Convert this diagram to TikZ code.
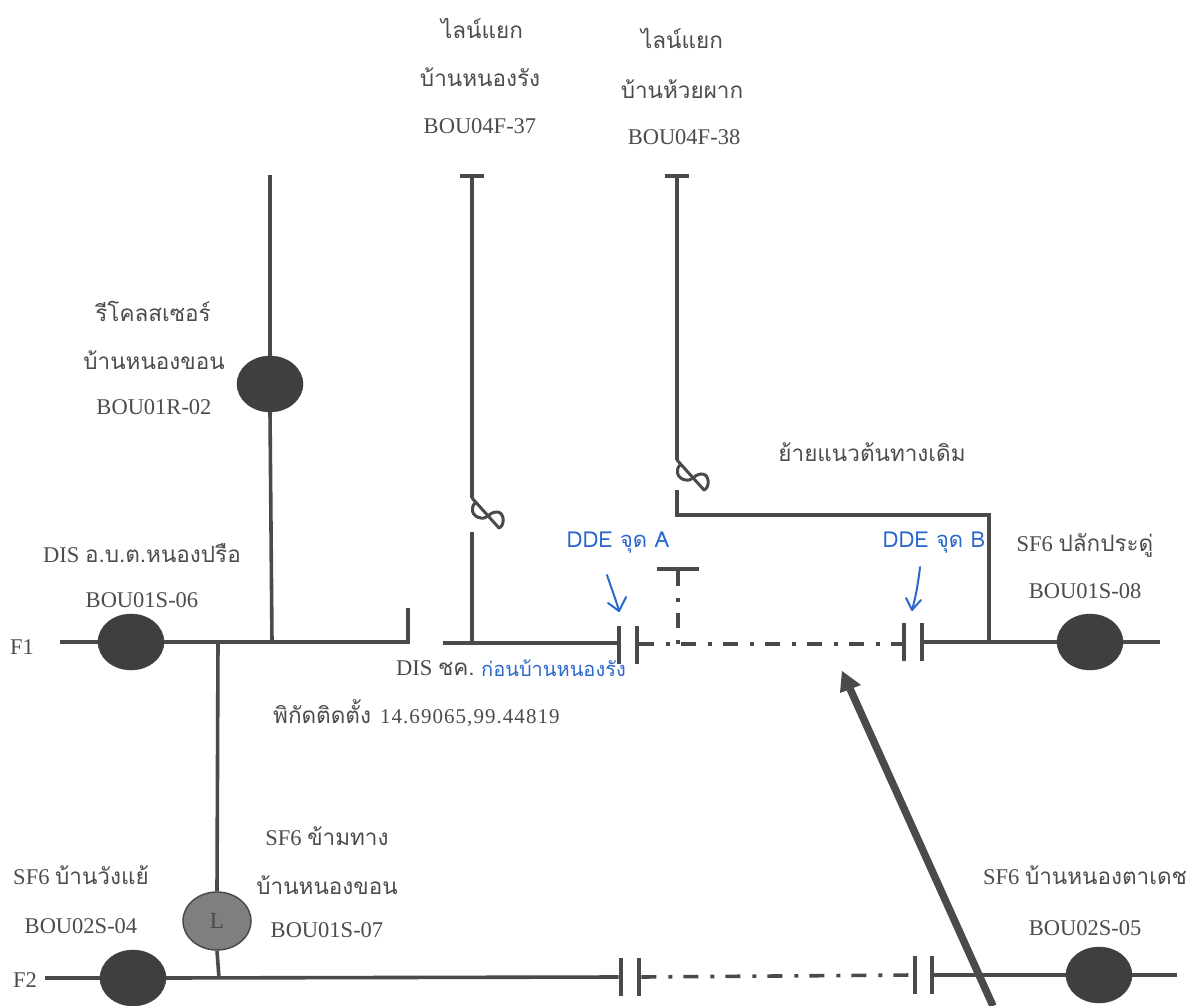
\documentclass[tikz,border=0pt]{standalone}
\usepackage{fontspec}
\usetikzlibrary{shapes.geometric,calc}
\setmainfont{Liberation Serif}
\newfontfamily\thaifont[Script=Thai]{Loma}
\newfontfamily\digitfont[LetterSpace=5]{Liberation Serif}
\newcommand{\tht}[1]{{\thaifont #1}}
\definecolor{ink}{HTML}{4A4A4A}
\definecolor{txt}{HTML}{4C4C4C}
\definecolor{dark}{HTML}{3F3F41}
\definecolor{midg}{HTML}{7F7F7F}
\definecolor{pen}{HTML}{2A68CC}
\tikzset{
  wire/.style={draw=ink,line width=3.6pt},
  dashwire/.style={draw=ink,line width=3.6pt,dash pattern=on 15pt off 12pt on 4pt off 11pt},
  sw/.style={ellipse,draw=dark,fill=dark,inner sep=0pt,minimum width=66pt,minimum height=56pt},
  swl/.style={ellipse,draw=ink,line width=1.5pt,fill=midg,inner sep=0pt,minimum width=68pt,minimum height=58pt,font=\fontsize{23}{23}\selectfont,text=ink},
  bar/.style={rectangle,fill=ink,inner sep=0pt,minimum width=4.5pt,minimum height=38pt},
  endcap/.style={rectangle,fill=ink,inner sep=0pt,minimum width=24pt,minimum height=4pt},
  lab/.style={inner sep=0pt,text=txt,font=\fontsize{22.5}{24}\selectfont},
  hand/.style={inner sep=0pt,text=pen,font=\fontsize{22}{24}\selectfont\thaifont},
  handline/.style={draw=pen,line width=2pt,line cap=round,line join=round},
  loopa/.style={draw=ink,line width=3pt,line cap=round}
}
\newcommand{\looppath}[1]{%
  \begin{scope}[shift={#1}]
  \draw[loopa] (0,0) -- (27,30);
  \draw[loopa] (3,5) .. controls (-2,10) and (0,19) .. (9,20)
     .. controls (16,21) and (16,15) .. (24,14)
     .. controls (33,13) and (33,28) .. (27,30);
  \end{scope}
}
\begin{document}
\begin{tikzpicture}[x=1pt,y=-1pt]
\useasboundingbox (0,0) rectangle (1192,1006);
\fill[white] (0,0) rectangle (1192,1006);

% switches
\node[sw] (s06) at (131,642) {};
\node[sw] (r02) at (270,384) {};
\node[sw] (s08) at (1090,642) {};
\node[sw] (s04) at (133,978) {};
\node[sw] (s05) at (1099,975) {};
\node[swl] (s07) at (217,921) {L};

% open points
\node[bar] (a1) at (619,645) {};
\node[bar] (a2) at (637,645) {};
\node[bar] (b1) at (904,642) {};
\node[bar] (b2) at (922,642) {};
\node[bar] (c1) at (621,977) {};
\node[bar] (c2) at (639,977) {};
\node[bar] (d1) at (915,975) {};
\node[bar] (d2) at (932,975) {};

% terminators
\node[endcap] (t37) at (472,176) {};
\node[endcap] (t38) at (677,176) {};
\node[endcap,minimum width=42pt] (t0) at (678,569) {};

% free ends and junctions
\coordinate (f1s) at (60,642);
\coordinate (j272) at (272,642);
\coordinate (j218) at (218,642);
\coordinate (rtop) at (270,175);
\coordinate (e408) at (408,642);
\coordinate (e408t) at (408,608);
\coordinate (l443) at (443,643);
\coordinate (j472) at (472,643);
\coordinate (u472) at (472,532);
\coordinate (d472) at (472,498);
\coordinate (d677) at (677,460);
\coordinate (u677) at (677,490);
\coordinate (k677) at (677,515);
\coordinate (k989) at (989,515);
\coordinate (j989) at (989,642);
\coordinate (j678) at (678,644);
\coordinate (f1e) at (1160,642);
\coordinate (f2s) at (45,978);
\coordinate (j218b) at (219,978);
\coordinate (f2e) at (1177,975);
\coordinate (atail) at (993,1006);
\coordinate (atip) at (842,671);

% feeder F1
\draw[wire] (f1s) -- (s06.west);
\draw[wire] (s06.east) -- (e408) -- (e408t);
\draw[wire] (rtop) -- (r02.north);
\draw[wire] (r02.south) -- (j272);
\draw[wire] (j218) -- (s07.north);
\draw[wire] (s07.south) -- (j218b);
\draw[wire] (l443) -- (a1.west |- l443);
\draw[wire] (u472) -- (j472);
\draw[wire] (t37.south) -- (d472);
\looppath{(d472)}
\draw[wire] (t38.south) -- (d677);
\looppath{(d677)}
\draw[wire,line join=miter] (u677) -- (k677) -- (k989) -- (j989);
\draw[wire] (b2.east) -- (s08.west);
\draw[wire] (s08.east) -- (f1e);
\draw[dashwire] (a2.east |- j678) -- (b1.west |- j678);
\draw[dashwire] (t0.south) -- (j678);

% feeder F2
\draw[wire] (f2s) -- (s04.west);
\draw[wire] (s04.east) -- (c1.west);
\draw[dashwire] (c2.east) -- (d1.west);
\draw[wire] (d2.east) -- (s05.west);
\draw[wire] (s05.east) -- (f2e);

% big arrow
\draw[draw=ink,line width=7.5pt] (atail) -- ($(atip)!0.05!(atail)$);
\fill[ink] (atip) -- (861,685) -- (840,693) -- cycle;

% texts
\node[lab] (l1a) at (482,28) {\tht{ไลน์แยก}};
\node[lab] (l1b) at (480,77) {\tht{บ้านหนองรัง}};
\node[lab] (l1c) at (480,126) {BOU04F-37};
\node[lab] (l2a) at (682,38) {\tht{ไลน์แยก}};
\node[lab] (l2b) at (682,89) {\tht{บ้านห้วยผาก}};
\node[lab] (l2c) at (684,137) {BOU04F-38};
\node[lab] (l3a) at (153,311) {\tht{รีโคลสเซอร์}};
\node[lab] (l3b) at (154,360) {\tht{บ้านหนองขอน}};
\node[lab] (l3c) at (154,407) {BOU01R-02};
\node[lab] (l4a) at (142,553) {DIS \tht{อ.บ.ต.หนองปรือ}};
\node[lab] (l4b) at (142,600) {BOU01S-06};
\node[lab] (f1) at (22,647) {F1};
\node[lab] (l5) at (872,452) {\tht{ย้ายแนวต้นทางเดิม}};
\node[lab] (l6a) at (1085,545) {SF6 \tht{ปลักประดู่}};
\node[lab] (l6b) at (1085,591) {BOU01S-08};
\node[lab,anchor=west] (l7) at (396,668) {DIS \tht{ชค.}};
\node[hand,anchor=west,font=\fontsize{20}{24}\selectfont\thaifont] (l7b) at (481,668) {ก่อนบ้านหนองรัง};
\node[lab,anchor=west] (l8) at (273,713) {\tht{พิกัดติดตั้ง}\hspace{9pt}{\digitfont\fontsize{21}{24}\selectfont 14.69065,99.44819}};
\node[lab] (l9a) at (327,836) {SF6 \tht{ข้ามทาง}};
\node[lab] (l9b) at (327,885) {\tht{บ้านหนองขอน}};
\node[lab] (l9c) at (327,930) {BOU01S-07};
\node[lab] (l10a) at (81,875) {SF6 \tht{บ้านวังแย้}};
\node[lab] (l10b) at (81,926) {BOU02S-04};
\node[lab] (f2) at (25,980) {F2};
\node[lab] (l11a) at (1085,875) {SF6 \tht{บ้านหนองตาเดช}};
\node[lab] (l11b) at (1085,928) {BOU02S-05};

% handwriting
\node[hand] (dA) at (618,543) {DDE จุด A};
\coordinate (a0) at (607,575);
\coordinate (a3) at (619,611);
\draw[handline] (a0) .. controls (612,590) and (616,600) .. (a3);
\draw[handline] (608,603) -- (a3) -- (626,597);
\node[hand] (dB) at (934,543) {DDE จุด B};
\coordinate (b0) at (920,567);
\coordinate (b3) at (912,610);
\draw[handline] (b0) .. controls (918,585) and (915,600) .. (b3);
\draw[handline] (906,598) -- (b3) -- (921,600);
\end{tikzpicture}
\end{document}
